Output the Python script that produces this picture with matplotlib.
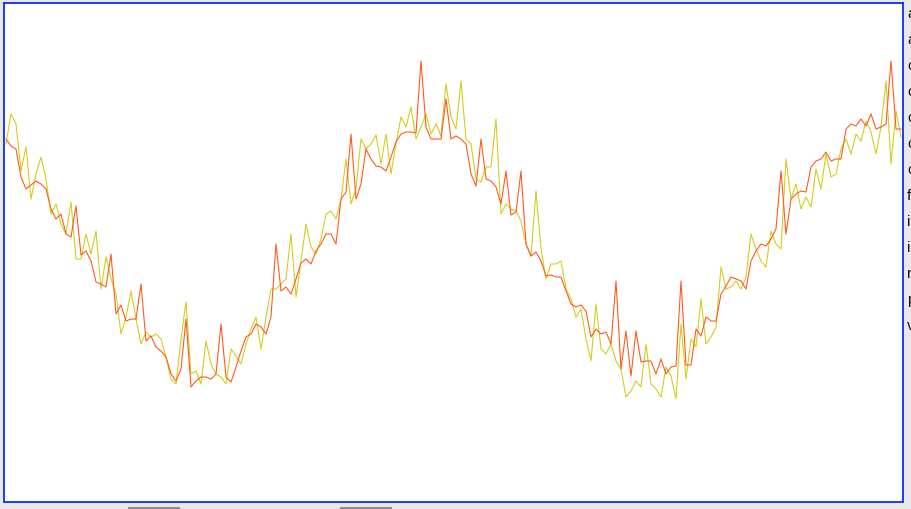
import matplotlib
matplotlib.use("Agg")
import matplotlib.pyplot as plt
from matplotlib.patches import Rectangle

# Series readings (screen-space level, lower value = higher on chart), one sample every step
series_orange = [
    140, 147, 150, 178, 190, 186, 182, 185, 190, 210,
    220, 215, 235, 238, 207, 256, 252, 262, 283, 285,
    288, 255, 315, 306, 322, 320, 320, 285, 342, 337,
    348, 352, 358, 375, 382, 370, 320, 388, 382, 378,
    378, 380, 375, 325, 378, 383, 368, 352, 338, 335,
    325, 328, 335, 318, 245, 292, 288, 295, 280, 264,
    260, 265, 252, 245, 235, 235, 245, 200, 193, 135,
    200, 185, 150, 160, 167, 168, 172, 158, 143, 135,
    133, 133, 134, 62, 128, 140, 140, 140, 100, 140,
    137, 140, 145, 175, 187, 140, 180, 182, 188, 205,
    172, 216, 213, 172, 245, 257, 253, 262, 277, 276,
    278, 278, 292, 305, 308, 306, 312, 338, 330, 335,
    333, 345, 282, 370, 332, 377, 332, 363, 362, 362,
    375, 360, 375, 368, 367, 282, 366, 366, 330, 337,
    318, 322, 322, 295, 287, 278, 280, 282, 290, 262,
    252, 245, 247, 240, 230, 172, 235, 200, 195, 192,
    193, 168, 162, 160, 153, 162, 160, 160, 130, 125,
    127, 120, 127, 115, 130, 128, 125, 62, 130, 130,
]

series_yellow = [
    145, 115, 125, 172, 148, 200, 175, 158, 180, 215,
    205, 225, 235, 203, 260, 260, 235, 255, 232, 290,
    258, 280, 295, 335, 318, 292, 320, 345, 333, 338,
    335, 340, 358, 380, 385, 340, 303, 375, 372, 385,
    342, 365, 375, 378, 385, 350, 357, 365, 345, 330,
    318, 350, 318, 290, 290, 285, 280, 235, 298, 262,
    225, 248, 255, 240, 215, 212, 220, 200, 160, 205,
    190, 140, 150, 145, 136, 165, 135, 175, 145, 118,
    128, 108, 140, 128, 115, 135, 125, 137, 85, 118,
    130, 82, 140, 145, 180, 183, 168, 168, 120, 215,
    205, 210, 212, 222, 245, 257, 192, 250, 280, 265,
    265, 262, 290, 300, 318, 310, 340, 362, 305, 350,
    355, 345, 362, 370, 398, 392, 382, 388, 345, 385,
    390, 398, 368, 377, 400, 325, 380, 340, 348, 300,
    345, 338, 328, 268, 290, 288, 282, 290, 278, 235,
    250, 262, 268, 232, 245, 250, 160, 200, 185, 210,
    198, 208, 170, 190, 155, 178, 175, 150, 140, 155,
    135, 142, 122, 133, 155, 128, 82, 165, 112, 138,
]

legend_letters = ["a", "a", "c", "c", "c", "c", "c", "f", "i", "i", "r", "p", "v"]

W, H = 912, 510
fig = plt.figure(figsize=(W / 100, H / 100), dpi=100, facecolor="#e8e8e8")

left_px, right_px, top_px, bottom_px = 4, 903, 4, 502.5
ax = fig.add_axes([left_px / W, (H - bottom_px) / H,
                   (right_px - left_px) / W, (bottom_px - top_px) / H])
ax.set_facecolor("white")

n = len(series_orange)
idx = list(range(n))
step_px = 5.0
first_px = 6.0
# x limits so that sample 0 sits at pixel 6 and spacing is 5 px
ax.set_xlim((left_px - first_px) / step_px, (right_px - first_px) / step_px)
ax.set_ylim(bottom_px, top_px)

ax.plot(idx, series_orange, color="#ff5b1f", lw=0.8, zorder=3)
ax.plot(idx, series_yellow, color="#d6cc1e", lw=0.8, zorder=2)

ax.set_xticks([])
ax.set_yticks([])
for sp in ax.spines.values():
    sp.set_color("#0a2cff")
    sp.set_linewidth(1.3)

# clipped legend text at right edge
y0, dy = 14, 26.0
for k, letter in enumerate(legend_letters):
    fig.text(907 / W, 1 - (y0 + dy * k) / H, letter, ha="left", va="center",
             fontsize=11, family="Liberation Sans", color="#111111")

# scrollbar thumbs at bottom
for x0 in (128, 340):
    fig.patches.append(Rectangle((x0 / W, 0), 52 / W, 2.5 / H,
                                 transform=fig.transFigure, facecolor="#8e8e8e",
                                 edgecolor="none"))

fig.savefig("out.png", dpi=100, facecolor=fig.get_facecolor())
